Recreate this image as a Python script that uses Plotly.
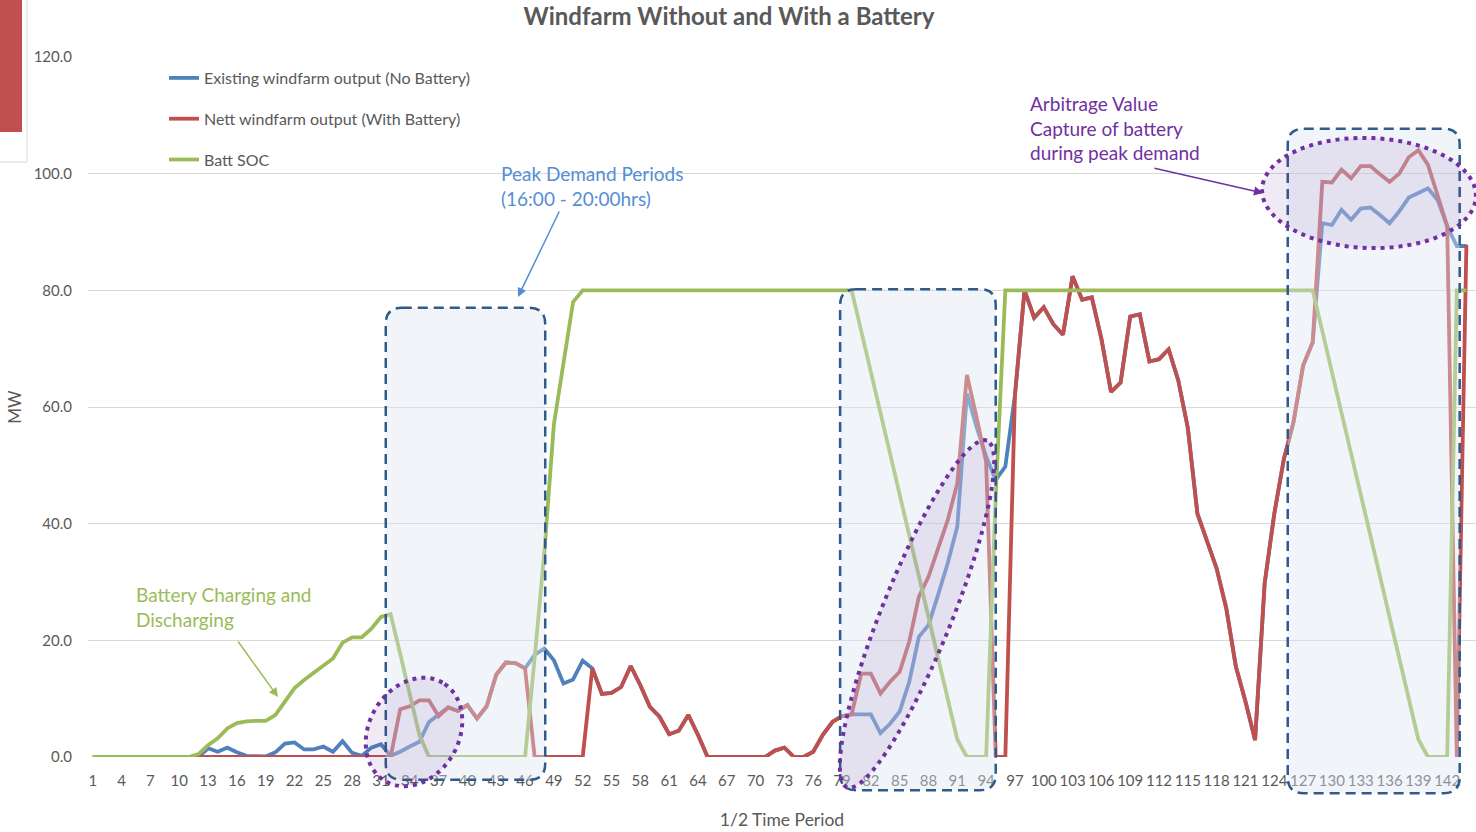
import numpy as np
import plotly.graph_objects as go

# 1/2 hour periods over three days
periods = list(range(1, 145))

existing_mw = [
    0, 0, 0, 0, 0, 0, 0, 0, 0, 0, 0, 0,
    1.5, 0.9, 1.6, 0.8, 0.2, 0.2, 0.1, 0.8, 2.3, 2.5, 1.3, 1.3,
    1.8, 0.9, 2.7, 0.7, 0.2, 1.6, 2.2, 0.2, 0.9, 1.8, 2.6, 6.0,
    7.2, 8.5, 7.9, 8.9, 6.6, 8.7, 14.1, 16.2, 16.1, 15.2, 17.5, 18.6,
    16.6, 12.6, 13.3, 16.5, 15.2, 10.8, 11.0, 12.0, 15.6, 12.3, 8.6, 6.9,
    3.9, 4.5, 7.2, 3.8, 0, 0, 0, 0, 0, 0, 0, 1.1,
    1.6, 0, 0, 0.9, 3.8, 6.0, 7.0, 7.3, 7.3, 7.3, 4.1, 5.7,
    7.8, 12.9, 20.6, 22.6, 27.8, 33.2, 39.5, 62.3, 56.6, 51.5, 47.5, 49.8,
    62.0, 80.0, 75.3, 77.1, 74.2, 72.4, 82.4, 78.4, 78.8, 71.7, 62.6, 64.2,
    75.5, 75.9, 67.8, 68.2, 69.9, 64.6, 56.4, 41.7, 37.0, 32.3, 25.5, 15.5,
    9.5, 2.9, 29.8, 41.7, 51.1, 57.4, 67.1, 71.1, 91.5, 91.2, 93.8, 92.1,
    94.0, 94.2, 92.9, 91.5, 93.5, 95.9, 96.7, 97.5, 95.5, 91.0, 87.6, 87.6,
]

nett_mw = [
    0, 0, 0, 0, 0, 0, 0, 0, 0, 0, 0, 0,
    0, 0, 0, 0, 0, 0, 0, 0, 0, 0, 0, 0,
    0, 0, 0, 0, 0, 0, 0, 0, 8.2, 8.7, 9.7, 9.7,
    7.0, 8.5, 7.9, 8.9, 6.6, 8.7, 14.1, 16.2, 16.1, 15.2, 0, 0,
    0, 0, 0, 0, 15.2, 10.8, 11.0, 12.0, 15.6, 12.3, 8.6, 6.9,
    3.9, 4.5, 7.2, 3.8, 0, 0, 0, 0, 0, 0, 0, 1.1,
    1.6, 0, 0, 0.9, 3.8, 6.0, 7.0, 7.3, 14.3, 14.3, 10.9, 12.9,
    14.6, 19.8, 27.5, 30.9, 36.0, 40.6, 46.9, 65.5, 58.3, 50.6, 0, 0,
    62.0, 80.0, 75.3, 77.1, 74.2, 72.4, 82.4, 78.4, 78.8, 71.7, 62.6, 64.2,
    75.5, 75.9, 67.8, 68.2, 69.9, 64.6, 56.4, 41.7, 37.0, 32.3, 25.5, 15.5,
    9.5, 2.9, 29.8, 41.7, 51.1, 57.4, 67.1, 71.1, 98.6, 98.5, 100.7, 99.2,
    101.3, 101.3, 99.9, 98.6, 100.0, 102.8, 104.0, 101.5, 96.3, 91.0, 0, 87.8,
]

batt_soc = [
    0, 0, 0, 0, 0, 0, 0, 0, 0, 0, 0, 0.5,
    2.0, 3.2, 4.9, 5.8, 6.1, 6.2, 6.2, 7.2, 9.5, 11.8, 13.2, 14.4,
    15.6, 16.9, 19.6, 20.5, 20.5, 22.0, 24.0, 24.5, 17.7, 10.6, 3.8, 0,
    0, 0, 0, 0, 0, 0, 0, 0, 0, 0, 17.0, 35.0,
    57.0, 68.0, 78.0, 80, 80, 80, 80, 80, 80, 80, 80, 80,
    80, 80, 80, 80, 80, 80, 80, 80, 80, 80, 80, 80,
    80, 80, 80, 80, 80, 80, 80, 80, 73.0, 66.0, 59.0, 52.0,
    45.0, 38.0, 31.0, 24.0, 17.0, 10.0, 3.0, 0, 0, 0, 45.0, 80,
    80, 80, 80, 80, 80, 80, 80, 80, 80, 80, 80, 80,
    80, 80, 80, 80, 80, 80, 80, 80, 80, 80, 80, 80,
    80, 80, 80, 80, 80, 80, 80, 80, 73.0, 66.0, 59.0, 52.0,
    45.0, 38.0, 31.0, 24.0, 17.0, 10.0, 3.0, 0, 0, 0, 80, 80,
]

tick_labels = [1, 4, 7, 10, 13, 16, 19, 22, 25, 28, 31, 34, 37, 40, 43, 46, 49, 52,
               55, 58, 61, 64, 67, 70, 73, 76, 79, 82, 85, 88, 91, 94, 97, 100,
               103, 106, 109, 112, 115, 118, 121, 124, 127, 130, 133, 136, 139, 142]

FONT = 'Lato'
GREY = '#595959'

# plot area in pixels (for the hand-drawn callouts)
L, R, T, B = 88, 0, 57, 75
W, H = 1476, 832
PW, PH = W - L - R, H - T - B
XR = [0.5, 145.0]
YR = [0, 120]


def px_to_paper(px, py):
    return (px - L) / PW, (H - B - py) / PH


def data_to_px(c, v):
    return (L + (c - XR[0]) / (XR[1] - XR[0]) * PW,
            H - B - (v - YR[0]) / (YR[1] - YR[0]) * PH)


def rounded_box(c0, c1, v0, v1, r=16):
    x0, y1 = data_to_px(c0, v0)
    x1, y0 = data_to_px(c1, v1)
    pts = [('M', x0 + r, y0), ('L', x1 - r, y0), ('Q', x1, y0, x1, y0 + r),
           ('L', x1, y1 - r), ('Q', x1, y1, x1 - r, y1), ('L', x0 + r, y1),
           ('Q', x0, y1, x0, y1 - r), ('L', x0, y0 + r), ('Q', x0, y0, x0 + r, y0)]
    out = []
    for p in pts:
        coords = []
        for i in range(1, len(p), 2):
            px, py = px_to_paper(p[i], p[i + 1])
            coords.append(f'{px:.5f},{py:.5f}')
        out.append(p[0] + ' '.join(coords))
    return ' '.join(out) + ' Z'


def ellipse(cx, cy, a, b, angle_deg, n=90):
    t = np.linspace(0, 2 * np.pi, n)
    th = np.radians(angle_deg)
    xs = cx + a * np.cos(t) * np.cos(th) - b * np.sin(t) * np.sin(th)
    ys = cy - (a * np.cos(t) * np.sin(th) + b * np.sin(t) * np.cos(th))
    segs = []
    for i, (x, y) in enumerate(zip(xs, ys)):
        px, py = px_to_paper(x, y)
        segs.append(('M' if i == 0 else 'L') + f'{px:.5f},{py:.5f}')
    return ' '.join(segs) + ' Z'


fig = go.Figure()

fig.add_trace(go.Scatter(x=periods, y=existing_mw, mode='lines', legendgroup='a',
                         name='Existing windfarm output (No Battery)',
                         line=dict(color='#4f81bd', width=3.8)))
fig.add_trace(go.Scatter(x=periods, y=nett_mw, mode='lines', legendgroup='b',
                         name='Nett windfarm output (With Battery)',
                         line=dict(color='#c0504d', width=3.8)))
fig.add_trace(go.Scatter(x=periods, y=batt_soc, mode='lines', legendgroup='c',
                         name='Batt SOC',
                         line=dict(color='#9bbb59', width=3.8)))

shapes = []
# peak demand periods (16:00 - 20:00hrs)
for c0, c1, top, bot in [(31.5, 48.1, 77.0, -3.9), (78.8, 95.0, 80.2, -5.7), (125.4, 143.3, 107.7, -6.2)]:
    shapes.append(dict(type='path', xref='paper', yref='paper', layer='above',
                       path=rounded_box(c0, c1, bot, top),
                       fillcolor='rgba(220,230,242,0.40)',
                       line=dict(color='#2f5a8a', width=2.5, dash='10px,6px')))
# arbitrage ellipses
for cx, cy, a, b, ang in [(414, 732, 57, 45, 60), (917, 614, 187, 35, 68), (1369, 193, 107, 55, -2)]:
    shapes.append(dict(type='path', xref='paper', yref='paper', layer='above',
                       path=ellipse(cx, cy, a, b, ang),
                       fillcolor='rgba(112,48,160,0.10)',
                       line=dict(color='#7030a0', width=4, dash='4px,5px')))

# fragment of a neighbouring chart in the top left corner
x0p, y0p = px_to_paper(0, 132)
x1p, y1p = px_to_paper(22, 0)
shapes.append(dict(type='rect', xref='paper', yref='paper', x0=x0p, y0=y0p, x1=x1p, y1=y1p,
                   fillcolor='#c0504d', line=dict(width=0)))
xa, ya = px_to_paper(27, 162)
xb, yb = px_to_paper(-2, 0)
shapes.append(dict(type='line', xref='paper', yref='paper', x0=xa, y0=ya, x1=xa, y1=yb,
                   line=dict(color='#d9d9d9', width=1)))
shapes.append(dict(type='line', xref='paper', yref='paper', x0=xb, y0=ya, x1=xa, y1=ya,
                   line=dict(color='#d9d9d9', width=1)))

annotations = []
for text, color, (px, py) in [
    ('Peak Demand Periods<br>(16:00 - 20:00hrs)', '#558ed5', (499, 186)),
    ('Battery Charging and<br>Discharging', '#9bbb59', (134, 607)),
    ('Arbitrage Value<br>Capture of battery<br>during peak demand', '#7030a0', (1028, 128)),
]:
    xp, yp = px_to_paper(px, py)
    annotations.append(dict(text=text, xref='paper', yref='paper', x=xp, y=yp,
                            xanchor='left', yanchor='middle', align='left', showarrow=False,
                            font=dict(family=FONT, size=19, color=color)))

for color, (tx, ty), (hx, hy) in [
    ('#558ed5', (560, 210), (518, 297)),
    ('#9bbb59', (237, 640), (278, 697)),
    ('#7030a0', (1153, 168), (1263, 193)),
]:
    hxp, hyp = px_to_paper(hx, hy)
    annotations.append(dict(text='', xref='paper', yref='paper', x=hxp, y=hyp,
                            ax=tx - hx, ay=ty - hy, axref='pixel', ayref='pixel',
                            showarrow=True, arrowhead=2, arrowsize=1.2, arrowwidth=1.5,
                            arrowcolor=color))

fig.update_layout(
    width=W, height=H,
    margin=dict(l=L, r=R, t=T, b=B),
    paper_bgcolor='white', plot_bgcolor='white',
    font=dict(family=FONT, color=GREY),
    title=dict(text='<b>Windfarm Without and With a Battery</b>', xref='container',
               x=729 / W, xanchor='center', y=1 - 17 / H, yanchor='middle',
               font=dict(family=FONT, size=24, color=GREY)),
    xaxis=dict(range=XR, tickmode='array', tickvals=tick_labels,
               ticktext=[str(t) for t in tick_labels],
               showgrid=False, zeroline=False, showline=False,
               ticks='outside', ticklen=10, tickcolor='rgba(0,0,0,0)',
               tickfont=dict(size=15, color=GREY),
               title=dict(text='1/2 Time Period', font=dict(size=17.5, color=GREY), standoff=25)),
    yaxis=dict(range=YR, tickmode='array', tickvals=[0, 20, 40, 60, 80, 100, 120],
               tickformat='.1f', showgrid=True, gridcolor='#d9d9d9', gridwidth=1.3,
               zeroline=False, showline=False,
               ticks='outside', ticklen=12, tickcolor='rgba(0,0,0,0)',
               tickfont=dict(size=15, color=GREY),
               title=dict(text='MW', font=dict(size=17, color=GREY), standoff=7)),
    legend=dict(x=(164 - L) / PW, y=(H - B - 61) / PH, xanchor='left', yanchor='top',
                bgcolor='rgba(0,0,0,0)', tracegroupgap=17,
                font=dict(family=FONT, size=16, color=GREY)),
    shapes=shapes,
    annotations=annotations,
)

# drop the default page margin so the figure sits at the window origin
fig.write_html('out.html', config={'displayModeBar': False},
               post_script="document.body.style.margin='0px';")
